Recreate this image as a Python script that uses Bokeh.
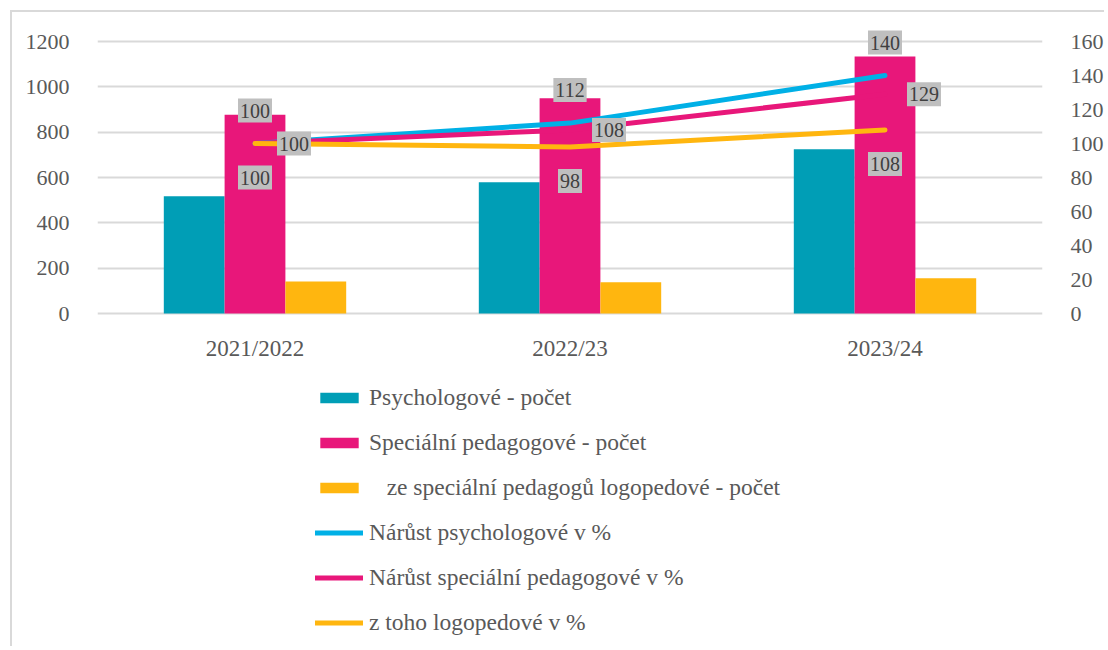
from bokeh.plotting import figure
from bokeh.models import (ColumnDataSource, FactorRange, Range1d, LinearAxis, Legend, LegendItem,
                          FixedTicker)
from bokeh.transform import dodge
from bokeh.core.properties import value
from bokeh.embed import file_html
from bokeh.resources import INLINE

# ---- data ----
cats = ["2021/2022", "2022/23", "2023/24"]
psych = [517, 579, 725]
spec = [877, 950, 1134]
logo = [141, 138, 155]
psych_pct = [100, 112, 140]
spec_pct = [100, 108, 129]
logo_pct = [100, 98, 108]
left_ticks = [0, 200, 400, 600, 800, 1000, 1200]
right_ticks = [0, 20, 40, 60, 80, 100, 120, 140, 160]

names = ["Psychologové - počet", "Speciální pedagogové - počet",
         "\u00a0\u00a0\u00a0ze speciální pedagogů logopedové - počet",
         "Nárůst psychologové v %", "Nárůst speciální pedagogové v %",
         "z toho logopedové v %"]

TEAL = "#009EB6"
PINK = "#E8177A"
YEL = "#FFB60F"
BLUE = "#00B0E6"
FONT = "'Liberation Serif'"
TXT = "#595959"

# ---- layout (pixels) ----
W, H = 1094, 636
TOP, ZERO = 29, 301          # y of top gridline and of value 0, in figure pixels
LEFT_MAX, RIGHT_MAX = 1200, 160
span = ZERO - TOP
lo = -(H - ZERO) / span
hi = ZERO / span

src = ColumnDataSource(dict(cat=cats, psych=psych, spec=spec, logo=logo,
                            psych_pct=psych_pct, spec_pct=spec_pct, logo_pct=logo_pct,
                            psych_lbl=[str(v) for v in psych_pct],
                            spec_lbl=[str(v) for v in spec_pct],
                            logo_lbl=[str(v) for v in logo_pct]))

p = figure(width=W, height=H, x_range=FactorRange(*cats),
           y_range=Range1d(LEFT_MAX * lo, LEFT_MAX * hi),
           output_backend="svg", toolbar_location=None,
           min_border_left=85, min_border_right=61, min_border_top=0, min_border_bottom=0)
p.margin = (12, 0, 0, 12)
p.styles = {"box-shadow": "-2px -2px 0 #D9D9D9"}
p.extra_y_ranges = {"pct": Range1d(RIGHT_MAX * lo, RIGHT_MAX * hi)}
p.outline_line_color = None
p.background_fill_color = "white"
p.border_fill_color = "white"

w = 0.193
r1 = p.vbar(x=dodge("cat", -w, range=p.x_range), top="psych", width=w, source=src,
            fill_color=TEAL, line_color=None)
r2 = p.vbar(x=dodge("cat", 0, range=p.x_range), top="spec", width=w, source=src,
            fill_color=PINK, line_color=None)
r3 = p.vbar(x=dodge("cat", w, range=p.x_range), top="logo", width=w, source=src,
            fill_color=YEL, line_color=None)

l1 = p.line(x="cat", y="psych_pct", source=src, y_range_name="pct", line_color=BLUE,
            line_width=5, line_cap="round", line_join="round")
l2 = p.line(x="cat", y="spec_pct", source=src, y_range_name="pct", line_color=PINK,
            line_width=5, line_cap="round", line_join="round")
l3 = p.line(x="cat", y="logo_pct", source=src, y_range_name="pct", line_color=YEL,
            line_width=5, line_cap="round", line_join="round")

lbl = dict(source=src, x="cat", y_range_name="pct", text_align="center",
           text_baseline="middle", text_font=value(FONT), text_font_size=value("20px"),
           text_color="#404040", background_fill_color="#BFBFBF",
           padding=dict(left=2, right=2, top=5, bottom=5))
p.text(y="psych_pct", text="psych_lbl", y_offset=-33, **lbl)
p.text(y="spec_pct", text="spec_lbl", x_offset=39, **lbl)
p.text(y="logo_pct", text="logo_lbl", y_offset=34, **lbl)

# category labels (x axis hidden, baseline drawn by the 0 gridline)
p.text(x=cats, y=[0] * len(cats), text=cats, y_offset=35, text_align="center",
       text_baseline="middle", text_font=value(FONT), text_font_size=value("23px"),
       text_color=TXT)
p.xaxis.visible = False

# y axes
p.yaxis.ticker = FixedTicker(ticks=left_ticks)
right = LinearAxis(y_range_name="pct", ticker=FixedTicker(ticks=right_ticks))
p.add_layout(right, "right")
for ax in [p.yaxis[0], right]:
    ax.axis_line_color = None
    ax.major_tick_line_color = None
    ax.minor_tick_line_color = None
    ax.major_label_text_font = FONT
    ax.major_label_text_font_size = "22px"
    ax.major_label_text_color = TXT
    ax.major_label_standoff = 22
p.xgrid.grid_line_color = None
p.ygrid.grid_line_color = "#D9D9D9"
p.ygrid.grid_line_width = 2
p.ygrid.ticker = FixedTicker(ticks=left_ticks)

legend = Legend(items=[LegendItem(label=n, renderers=[r]) for n, r in
                       zip(names, [r1, r2, r3, l1, l2, l3])],
                location=(218, 12), orientation="vertical",
                glyph_width=48, glyph_height=13, label_height=27, spacing=18,
                label_standoff=6, padding=0, margin=0, border_line_color=None,
                background_fill_alpha=0,
                label_text_font=FONT, label_text_font_size="23.5px", label_text_color=TXT)
p.add_layout(legend, "center")

open("out.html", "w").write(file_html(p, INLINE))
